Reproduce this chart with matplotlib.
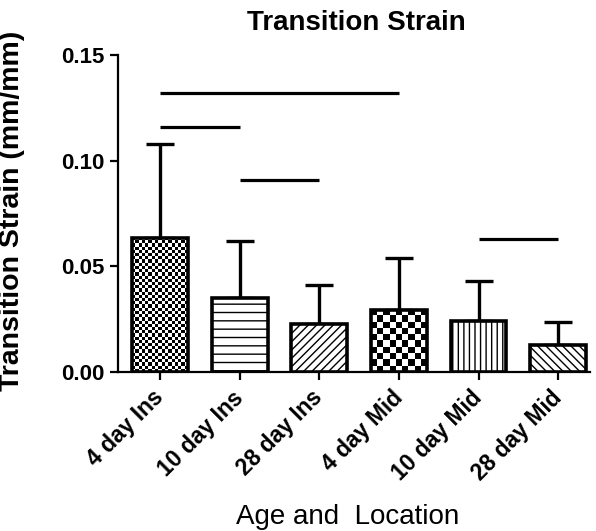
import numpy as np
import matplotlib
matplotlib.use("Agg")
import matplotlib.pyplot as plt

plt.rcParams['font.family'] = ['Liberation Sans', 'DejaVu Sans']
plt.rcParams['hatch.linewidth'] = 1.0

# ---- data ----
groups = ['4 day Ins', '10 day Ins', '28 day Ins', '4 day Mid', '10 day Mid', '28 day Mid']
means = [0.0635, 0.035, 0.0225, 0.0295, 0.024, 0.013]
upper = [0.108, 0.062, 0.041, 0.054, 0.043, 0.0235]   # top of the SD bars
sd = [u - m for u, m in zip(upper, means)]
# significance bars: (from group, to group, height)
sig_from = [0, 0, 1, 4]
sig_to = [3, 1, 2, 5]
sig_y = [0.132, 0.116, 0.091, 0.063]

hatches = [None, '--', '////', None, '|||', '\\\\\\\\']
checker_px = {0: 3.2, 3: 6.2}   # checkerboard cell size (px) for bars 1 and 4

W, H, DPI = 596, 531, 100
fig = plt.figure(figsize=(W / DPI, H / DPI), dpi=DPI)
ax_l, ax_b, ax_w, ax_h = 0.198, 0.2994, 0.792, 0.597
ax = fig.add_axes([ax_l, ax_b, ax_w, ax_h])

x = np.arange(len(groups))
bw = 0.70
xlim = (-0.528, 5.40)
ylim = (0, 0.15)

faces = ['none' if i in checker_px else 'white' for i in range(len(groups))]
bars = ax.bar(x, means, width=bw, color=faces, edgecolor='black',
              linewidth=2.6, zorder=3)
for b, h in zip(bars, hatches):
    if h:
        b.set_hatch(h)

# checkerboard fills
px_x = ax_w * W / (xlim[1] - xlim[0])
px_y = ax_h * H / (ylim[1] - ylim[0])
for i, cell in checker_px.items():
    b = bars[i]
    nx = max(1, int(round(bw * px_x / cell)))
    ny = max(1, int(round(means[i] * px_y / cell)))
    pat = (np.add.outer(np.arange(ny), np.arange(nx)) % 2).astype(float)
    im = ax.imshow(pat, cmap='gray', interpolation='nearest', aspect='auto',
                   extent=(x[i] - bw / 2, x[i] + bw / 2, 0, means[i]),
                   zorder=2.5)
    im.set_clip_path(b)

ax.errorbar(x, means, yerr=[np.zeros(len(sd)), sd], fmt='none',
            ecolor='black', elinewidth=2.4, capsize=10, capthick=2.4, zorder=2)

for a, b, yv in zip(sig_from, sig_to, sig_y):
    ax.plot([x[a], x[b]], [yv, yv], color='black', lw=2.3, solid_capstyle='butt')

ax.set_xlim(*xlim)
ax.set_ylim(*ylim)
ax.set_yticks([0, 0.05, 0.10, 0.15])
ax.set_yticklabels(['0.00', '0.05', '0.10', '0.15'])
ax.set_xticks(x)
ax.set_xticklabels(groups, rotation=45, ha='right', va='center',
                   rotation_mode='anchor')

for s in ['top', 'right']:
    ax.spines[s].set_visible(False)
for s in ['left', 'bottom']:
    ax.spines[s].set_linewidth(1.6)

ax.tick_params(axis='both', length=6, width=1.6, pad=4)
ax.tick_params(axis='y', labelsize=16)
ax.tick_params(axis='x', labelsize=16.5, pad=10)
for lab in ax.get_xticklabels() + ax.get_yticklabels():
    lab.set_fontweight('bold')

ax.set_ylabel('Transition Strain (mm/mm)', fontsize=20.5, fontweight='bold')
ax.yaxis.set_label_coords(-0.197, 0.508)
ax.set_xlabel('Age and  Location', fontsize=20, va='center')
ax.xaxis.set_label_coords(0.487, -0.457)
ax.text(0.506, 1.101, 'Transition Strain', transform=ax.transAxes,
        ha='center', va='center', fontsize=20, fontweight='bold')

fig.savefig('out.png', dpi=DPI)
